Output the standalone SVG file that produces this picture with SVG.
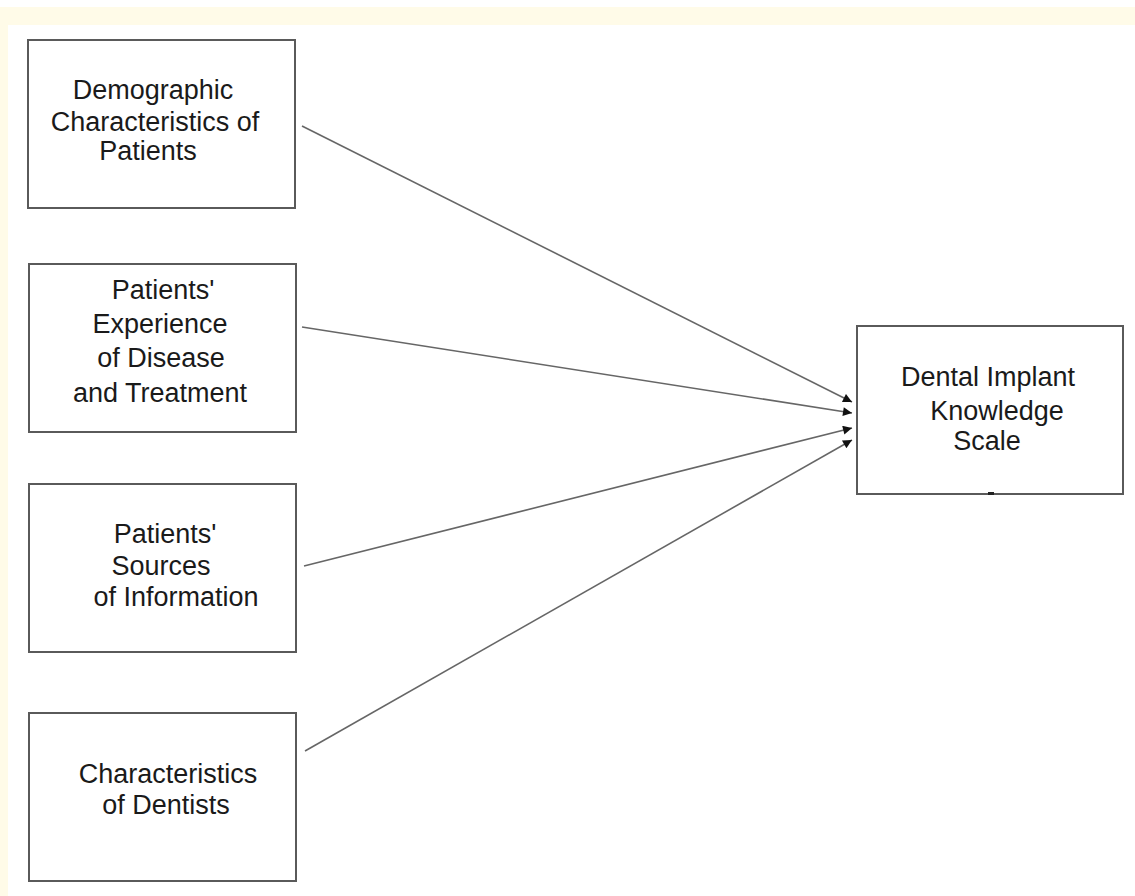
<svg xmlns="http://www.w3.org/2000/svg" width="1135" height="896" viewBox="0 0 1135 896">
<style>
.box{fill:#ffffff;stroke:#5a5a5a;stroke-width:2}
.t{font-family:"Liberation Sans",Arial,sans-serif;font-size:27px;fill:#1a1a1a;text-anchor:middle}
.c{stroke:#666666;stroke-width:1.6;fill:none;marker-end:url(#ah)}
</style>
<defs>
<marker id="ah" viewBox="0 0 10 10" refX="10" refY="5" markerWidth="11" markerHeight="9" markerUnits="userSpaceOnUse" orient="auto">
<path d="M0,0 L10,5 L0,10 z" fill="#111111"/>
</marker>
</defs>
<rect x="0" y="0" width="1135" height="896" fill="#ffffff"/>
<rect x="0" y="7" width="1135" height="18" fill="#fffbe8"/>
<rect x="0" y="7" width="8" height="889" fill="#fffbe8"/>
<g id="connectors">
<line class="c" x1="302" y1="126" x2="852" y2="402"/>
<line class="c" x1="302" y1="327" x2="852" y2="413"/>
<line class="c" x1="304" y1="566" x2="852" y2="428"/>
<line class="c" x1="305" y1="751" x2="852" y2="440"/>
</g>
<g id="demographic">
<rect class="box" x="28" y="40" width="267" height="168"/>
<text class="t" x="153" y="99">Demographic</text>
<text class="t" x="155" y="131">Characteristics of</text>
<text class="t" x="148" y="160">Patients</text>
</g>
<g id="experience">
<rect class="box" x="29" y="264" width="267" height="168"/>
<text class="t" x="163" y="299">Patients'</text>
<text class="t" x="160" y="333">Experience</text>
<text class="t" x="161" y="367">of Disease</text>
<text class="t" x="160" y="402">and Treatment</text>
</g>
<g id="sources">
<rect class="box" x="29" y="484" width="267" height="168"/>
<text class="t" x="165" y="543">Patients'</text>
<text class="t" x="161" y="575">Sources</text>
<text class="t" x="176" y="606">of Information</text>
</g>
<g id="dentists">
<rect class="box" x="29" y="713" width="267" height="168"/>
<text class="t" x="168" y="783">Characteristics</text>
<text class="t" x="166" y="814">of Dentists</text>
</g>
<g id="knowledge">
<rect class="box" x="857" y="326" width="266" height="168"/>
<text class="t" x="988" y="386">Dental Implant</text>
<text class="t" x="997" y="420">Knowledge</text>
<text class="t" x="987" y="450">Scale</text>
<rect x="988" y="492" width="6" height="3" fill="#222222"/>
</g>
</svg>
